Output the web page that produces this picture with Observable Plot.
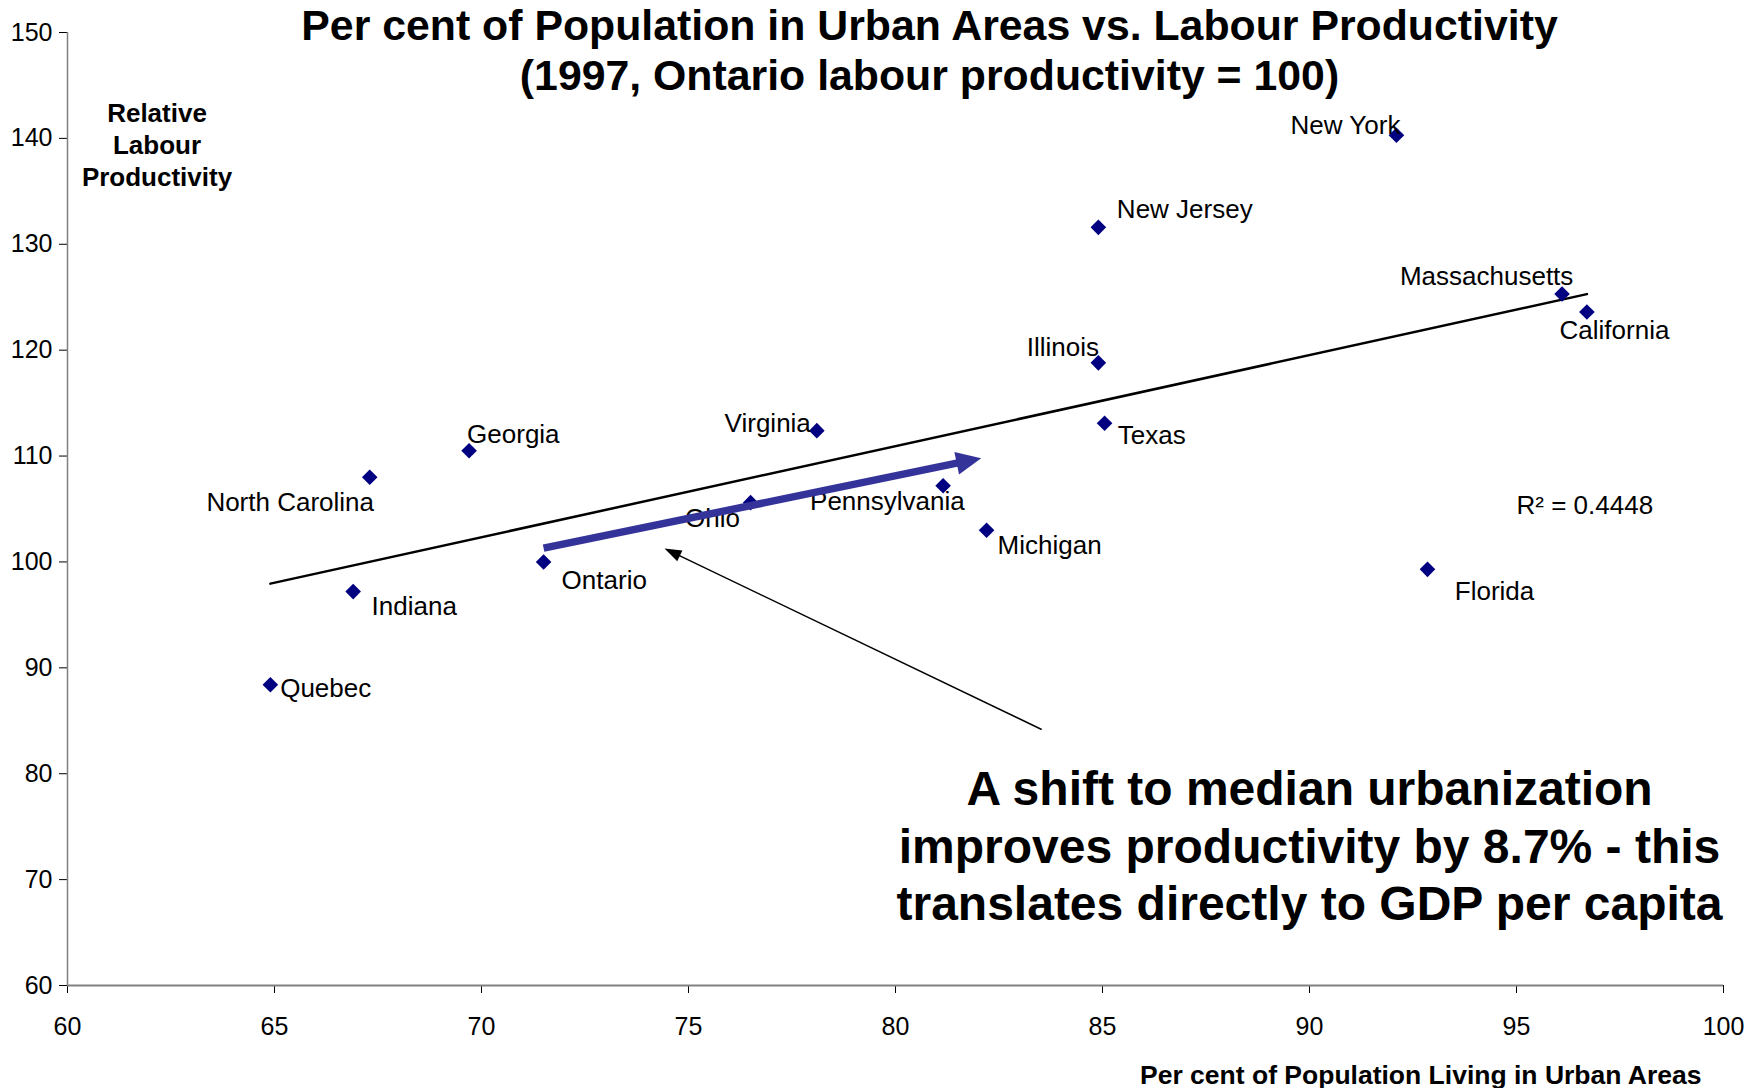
<!DOCTYPE html>
<html><head><meta charset="utf-8">
<script src="https://cdn.jsdelivr.net/npm/d3@7"></script>
<script src="https://cdn.jsdelivr.net/npm/@observablehq/plot@0.6"></script>
<style>
html,body{margin:0;padding:0;background:#fff;}
#chart{width:1758px;height:1088px;overflow:hidden;}
</style></head><body><div id="chart"></div>
<script>
// ---- data ----
const states = ["New York","New Jersey","Massachusetts","California","Illinois","Texas","Virginia","Georgia","North Carolina","Pennsylvania","Ohio","Michigan","Ontario","Indiana","Florida","Quebec"];
const urbanPct = [92.1, 84.9, 96.1, 96.7, 84.9, 85.05, 78.1, 69.7, 67.3, 81.15, 76.5, 82.2, 71.5, 66.9, 92.85, 64.9];
const productivity = [140.3, 131.6, 125.3, 123.6, 118.8, 113.1, 112.4, 110.5, 108.0, 107.2, 105.6, 103.0, 100.0, 97.2, 99.3, 88.4];
const xTicks = [60, 65, 70, 75, 80, 85, 90, 95, 100];
const yTicks = [60, 70, 80, 90, 100, 110, 120, 130, 140, 150];
const titleLines = ["Per cent of Population in Urban Areas vs. Labour Productivity", "(1997, Ontario labour productivity = 100)"];
const yTitleLines = ["Relative", "Labour", "Productivity"];
const xTitle = "Per cent of Population Living in Urban Areas";
const noteLines = ["A shift to median urbanization", "improves productivity by 8.7% - this", "translates directly to GDP per capita"];
const r2Text = "R\u00B2 = 0.4448";
// shift arrow (Ontario -> median urbanization) and pointer arrow, in data units
const shiftFrom = [71.5, 101.3], shiftTo = [82.07, 109.8];
const pointerFrom = [83.53, 84.18], pointerTo = [74.42, 101.27];

// ---- layout ----
const W = 1758, H = 1088;
const M = {top: 32, right: 35, bottom: 103, left: 67};
const xDomain = [60, 100], yDomain = [60, 150];
const kx = (W - M.left - M.right) / (xDomain[1] - xDomain[0]);
const ky = (H - M.top - M.bottom) / (yDomain[1] - yDomain[0]);
const FONT = "'Liberation Sans', Arial, Helvetica, sans-serif";

// label placement: [textAnchor, dx, dy(baseline offset)]
const labelPlacement = {
  "New York": ["end", 4, -1],
  "New Jersey": ["start", 18.5, -9],
  "Massachusetts": ["end", 11.3, -9],
  "California": ["start", -27.3, 26.6],
  "Illinois": ["end", 0.7, -6.7],
  "Texas": ["start", 13.3, 21],
  "Virginia": ["end", -6, 1],
  "Georgia": ["start", -2, -7.4],
  "North Carolina": ["end", 4.3, 34],
  "Pennsylvania": ["end", 21.6, 24.7],
  "Ohio": ["end", -10.7, 24],
  "Michigan": ["start", 11, 24],
  "Ontario": ["start", 18, 27.5],
  "Indiana": ["start", 18.4, 23],
  "Florida": ["start", 27.3, 30.7],
  "Quebec": ["start", 9.8, 12.4]
};

const data = states.map((s, i) => ({state: s, urban: urbanPct[i], prod: productivity[i]}));

const diamond = {draw(ctx) { const r = 7.8; ctx.moveTo(0, -r); ctx.lineTo(r, 0); ctx.lineTo(0, r); ctx.lineTo(-r, 0); ctx.closePath(); }};

function arrowMarks(from, to, {stroke, width, headL, headW}) {
  const dxs = (to[0] - from[0]) * kx, dys = -(to[1] - from[1]) * ky;
  const th = Math.atan2(dys, dxs);
  const c = Math.cos(th), s = Math.sin(th);
  const back = headL * 0.6;
  const end = [to[0] - back * c / kx, to[1] + back * s / ky];
  const head = {draw(ctx) {
    const bx = -headL * c, by = -headL * s;
    const px = -s * headW / 2, py = c * headW / 2;
    ctx.moveTo(0, 0); ctx.lineTo(bx + px, by + py); ctx.lineTo(bx - px, by - py); ctx.closePath();
  }};
  return [
    Plot.link([{x1: from[0], y1: from[1], x2: end[0], y2: end[1]}], {x1: "x1", y1: "y1", x2: "x2", y2: "y2", stroke, strokeWidth: width}),
    Plot.dot([{x: to[0], y: to[1]}], {x: "x", y: "y", symbol: head, fill: stroke, stroke: "none"})
  ];
}

const labelMarks = data.map(d => {
  const [anchor, dx, dy] = labelPlacement[d.state];
  return Plot.text([d], {x: "urban", y: "prod", text: "state", textAnchor: anchor, lineAnchor: "bottom", dx, dy, fontSize: 26, fill: "#000"});
});

const plot = Plot.plot({
  width: W, height: H,
  marginTop: M.top, marginRight: M.right, marginBottom: M.bottom, marginLeft: M.left,
  style: {fontFamily: FONT, fontSize: "25px", background: "#fff", color: "#000", overflow: "visible"},
  x: {domain: xDomain, ticks: xTicks, tickSize: 8, tickPadding: 24, label: null},
  y: {domain: yDomain, ticks: yTicks, tickSize: 8, tickPadding: 7, label: null},
  marks: [
    Plot.ruleY([yDomain[0]], {stroke: "#808080", strokeWidth: 2}),
    Plot.ruleX([xDomain[0]], {stroke: "#808080", strokeWidth: 1.5}),
    Plot.linearRegressionY(data, {x: "urban", y: "prod", stroke: "#000", strokeWidth: 2.5, ci: 0}),
    Plot.dot(data, {x: "urban", y: "prod", symbol: diamond, fill: "#000080", stroke: "none"}),
    ...labelMarks,
    Plot.text([r2Text], {x: 95, y: 104.55, text: d => d, textAnchor: "start", lineAnchor: "bottom", fontSize: 26}),
    ...arrowMarks(shiftFrom, shiftTo, {stroke: "#333399", width: 7.5, headL: 25, headW: 23}),
    ...arrowMarks(pointerFrom, pointerTo, {stroke: "#000", width: 1.5, headL: 17, headW: 12}),
    // title
    Plot.text([titleLines[0]], {frameAnchor: "top", text: d => d, dx: 34, dy: 7, lineAnchor: "bottom", fontSize: 42.8, fontWeight: "bold"}),
    Plot.text([titleLines[1]], {frameAnchor: "top", text: d => d, dx: 34, dy: 57, lineAnchor: "bottom", fontSize: 42.8, fontWeight: "bold"}),
    // y title
    ...yTitleLines.map((t, i) => Plot.text([t], {frameAnchor: "top-left", text: d => d, dx: 89.5, dy: 89 + 32 * i, textAnchor: "middle", lineAnchor: "bottom", fontSize: 26, fontWeight: "bold"})),
    // x title
    Plot.text([xTitle], {frameAnchor: "bottom-right", text: d => d, dx: -22, dy: 98, textAnchor: "end", lineAnchor: "bottom", fontSize: 26.5, fontWeight: "bold"}),
    // big annotation
    ...noteLines.map((t, i) => Plot.text([t], {x: 90, y: [77.0, 71.57, 66.14][i], text: d => d, textAnchor: "middle", lineAnchor: "bottom", fontSize: 48, fontWeight: "bold"}))
  ]
});
document.getElementById("chart").appendChild(plot);
</script>
</body></html>
